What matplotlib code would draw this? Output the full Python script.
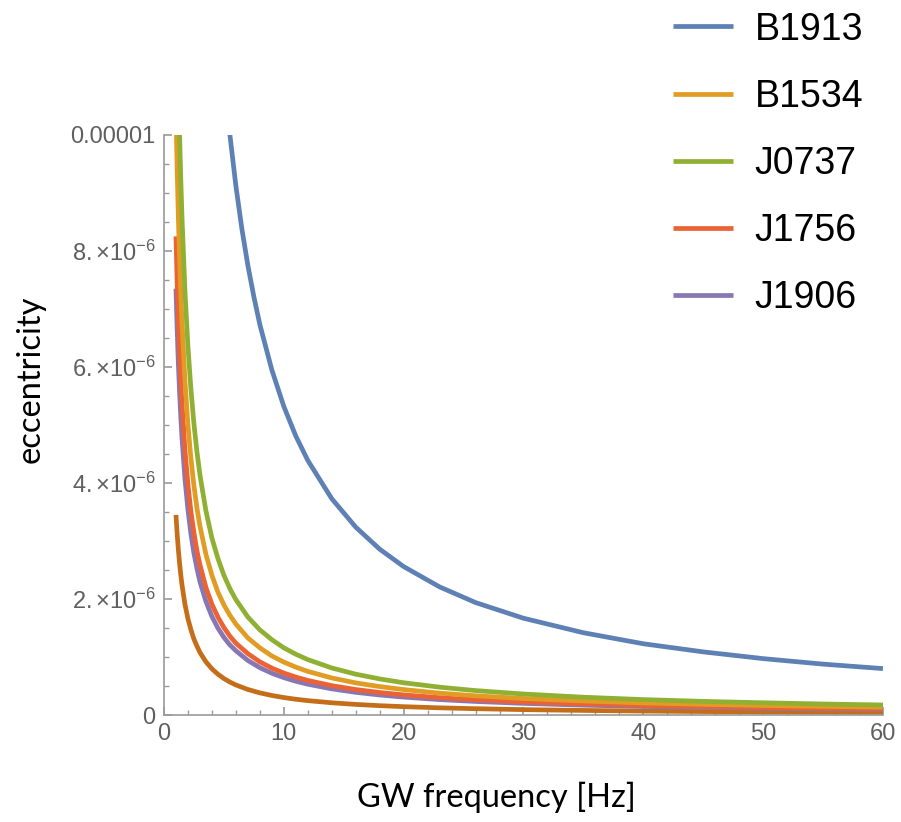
import matplotlib.pyplot as plt
from matplotlib.ticker import FixedLocator, FixedFormatter, MultipleLocator

plt.rcParams['mathtext.fontset'] = 'custom'
plt.rcParams['mathtext.rm'] = 'Liberation Sans'
plt.rcParams['mathtext.it'] = 'Liberation Sans:italic'

# GW frequency [Hz] sample points
freq = [1, 1.1, 1.2, 1.3, 1.4, 1.5, 1.75, 2, 2.25, 2.5, 2.75, 3, 3.5, 4, 4.5, 5, 5.5, 6,
        7, 8, 9, 10, 11, 12, 14, 16, 18, 20, 23, 26, 30, 35, 40, 45, 50, 55, 60]
freq_b1913 = [5.5, 6, 6.5, 7, 7.5, 8, 9, 10, 11, 12, 14, 16, 18, 20, 23, 26, 30, 35,
              40, 45, 50, 55, 60]

# eccentricity in units of 1e-6
ecc_b1913 = [10.0, 9.12, 8.38, 7.75, 7.21, 6.73, 5.95, 5.32, 4.81, 4.39, 3.73, 3.24,
             2.86, 2.56, 2.21, 1.94, 1.67, 1.42, 1.23, 1.09, 0.974, 0.879, 0.802]
ecc_b1534 = [10.4, 9.40, 8.58, 7.88, 7.29, 6.78, 5.76, 5.00, 4.42, 3.95, 3.57, 3.26,
             2.77, 2.41, 2.12, 1.90, 1.72, 1.57, 1.33, 1.16, 1.02, 0.914, 0.827, 0.754,
             0.641, 0.556, 0.492, 0.440, 0.379, 0.333, 0.287, 0.244, 0.211, 0.187,
             0.167, 0.151, 0.138]
ecc_j0737 = [13.2, 11.94, 10.89, 10.01, 9.25, 8.60, 7.31, 6.35, 5.61, 5.02, 4.54, 4.14,
             3.52, 3.05, 2.70, 2.41, 2.18, 1.99, 1.69, 1.47, 1.30, 1.16, 1.05, 0.957,
             0.813, 0.706, 0.624, 0.558, 0.482, 0.423, 0.364, 0.309, 0.268, 0.237,
             0.213, 0.192, 0.175]
ecc_j1756 = [8.25, 7.46, 6.81, 6.25, 5.78, 5.38, 4.57, 3.97, 3.50, 3.14, 2.83, 2.59,
             2.20, 1.91, 1.69, 1.51, 1.36, 1.24, 1.06, 0.918, 0.811, 0.725, 0.656, 0.598,
             0.508, 0.441, 0.390, 0.349, 0.301, 0.264, 0.228, 0.193, 0.167, 0.148,
             0.133, 0.120, 0.109]
ecc_j1906 = [7.35, 6.65, 6.06, 5.57, 5.15, 4.79, 4.07, 3.54, 3.12, 2.79, 2.53, 2.30,
             1.96, 1.70, 1.50, 1.34, 1.21, 1.11, 0.942, 0.818, 0.722, 0.646, 0.584,
             0.533, 0.453, 0.393, 0.347, 0.311, 0.268, 0.236, 0.203, 0.172, 0.149,
             0.132, 0.118, 0.107, 0.097]
ecc_other = [3.45, 3.12, 2.85, 2.62, 2.42, 2.25, 1.91, 1.66, 1.47, 1.31, 1.19, 1.08,
             0.919, 0.798, 0.705, 0.631, 0.570, 0.520, 0.442, 0.384, 0.339, 0.303,
             0.274, 0.250, 0.213, 0.185, 0.163, 0.146, 0.126, 0.111, 0.095, 0.081,
             0.070, 0.062, 0.056, 0.050, 0.046]

ytick_vals = [0, 2e-6, 4e-6, 6e-6, 8e-6, 1e-5]
ytick_labels = ['0', r'$2.{\times}10^{-6}$', r'$4.{\times}10^{-6}$', r'$6.{\times}10^{-6}$',
                r'$8.{\times}10^{-6}$', '0.00001']
xtick_vals = [0, 10, 20, 30, 40, 50, 60]

fig = plt.figure(figsize=(9.01, 8.22), dpi=100)
ax = fig.add_axes([0.182, 0.130, 0.798, 0.706])

scale = 1e-6
kw = dict(lw=3.4, solid_capstyle='butt', solid_joinstyle='round')
ax.plot(freq_b1913, [v * scale for v in ecc_b1913], c='#5E81B5', label='B1913', **kw)
ax.plot(freq, [v * scale for v in ecc_other], c='#C56E1A', **kw)
ax.plot(freq, [v * scale for v in ecc_j1906], c='#8778B3', label='J1906', **kw)
ax.plot(freq, [v * scale for v in ecc_j1756], c='#EB6235', label='J1756', **kw)
ax.plot(freq, [v * scale for v in ecc_b1534], c='#E19C24', label='B1534', **kw)
ax.plot(freq, [v * scale for v in ecc_j0737], c='#8FB032', label='J0737', **kw)

ax.set_xlim(0, 60)
ax.set_ylim(0, 1e-5)

for s in ['top', 'right']:
    ax.spines[s].set_visible(False)
for s in ['left', 'bottom']:
    ax.spines[s].set_color('#9a9a9a')
    ax.spines[s].set_linewidth(1.2)

ax.xaxis.set_major_locator(FixedLocator(xtick_vals))
ax.xaxis.set_minor_locator(MultipleLocator(2))
ax.yaxis.set_major_locator(FixedLocator(ytick_vals))
ax.yaxis.set_major_formatter(FixedFormatter(ytick_labels))
ax.yaxis.set_minor_locator(MultipleLocator(5e-7))
ax.tick_params(which='both', direction='in', color='#9a9a9a', labelcolor='#5f5f5f',
               labelsize=17)
ax.tick_params(which='major', length=6, width=1.2, pad=6)
ax.tick_params(which='minor', length=3.5, width=1)
for t in ax.get_xticklabels() + ax.get_yticklabels():
    t.set_family('Liberation Sans')

ax.set_xlabel('GW frequency [Hz]', family='Lato', fontsize=23.5, va='center')
ax.xaxis.set_label_coords(0.462, -0.141)
ax.set_ylabel('eccentricity', family='Lato', fontsize=23.5, va='center')
ax.yaxis.set_label_coords(-0.186, 0.578)

# legend order as in the picture
h, l = ax.get_legend_handles_labels()
order = ['B1913', 'B1534', 'J0737', 'J1756', 'J1906']
hh = [h[l.index(n)] for n in order]
leg = fig.legend(hh, order, loc='upper left', bbox_to_anchor=(0.71, 1.027),
                 frameon=False, prop={'family': 'Liberation Sans', 'size': 27},
                 handlelength=1.6, handletextpad=0.56, labelspacing=0.83)

fig.savefig('out.png', dpi=100)
